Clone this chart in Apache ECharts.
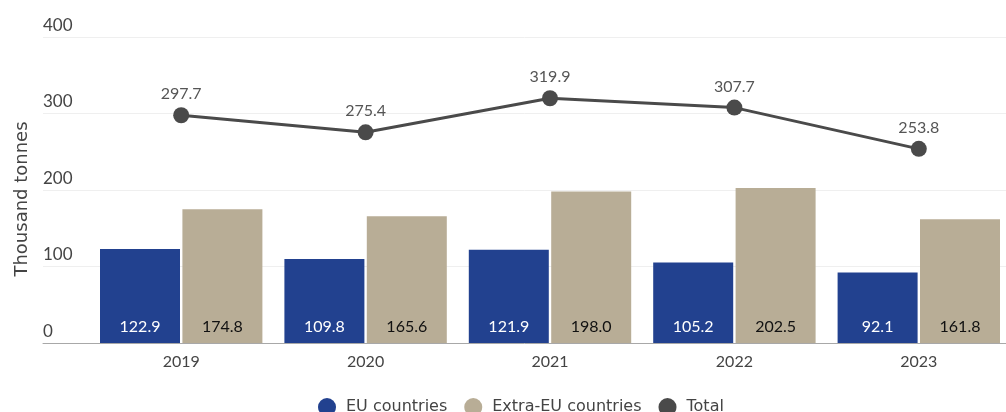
<!DOCTYPE html>
<html>
<head>
<meta charset="utf-8">
<script src="https://cdn.jsdelivr.net/npm/echarts@6/dist/echarts.min.js"></script>
<style>
  html, body { margin: 0; padding: 0; background: #fff; }
  #chart { width: 1006px; height: 412px; }
</style>
</head>
<body>
<div id="chart"></div>
<script>
// Imports by origin, thousand tonnes
const years = ['2019', '2020', '2021', '2022', '2023'];
const euCountries = [122.9, 109.8, 121.9, 105.2, 92.1];
const extraEuCountries = [174.8, 165.6, 198.0, 202.5, 161.8];
const totals = [297.7, 275.4, 319.9, 307.7, 253.8];
const yTicks = { min: 0, max: 400, interval: 100 };

const NUM_FONT = 'Lato';
const WORD_FONT = 'DejaVu Sans';
const TEXT = '#444444';
const EU_BLUE = '#22418f';
const EXTRA_TAN = '#b8ad96';
const TOTAL_GREY = '#4a4a4a';

const chart = echarts.init(document.getElementById('chart'), null, { renderer: 'canvas' });

chart.setOption({
  animation: false,
  textStyle: { fontFamily: NUM_FONT },
  grid: [
    // frame: gridlines, value labels and baseline
    { left: 43, right: 0, top: 37, bottom: 69, containLabel: false, outerBoundsMode: 'none' },
    // plotting area for the yearly groups
    { left: 89, width: 922, top: 37, bottom: 69, containLabel: false, outerBoundsMode: 'none' }
  ],
  xAxis: [
    {
      gridIndex: 0, type: 'value', min: 0, max: 1,
      axisLine: { show: true, onZero: false, lineStyle: { color: '#a8a8a8', width: 1 } },
      axisTick: { show: false }, axisLabel: { show: false }, splitLine: { show: false }
    },
    {
      gridIndex: 1, type: 'category', data: years,
      axisLine: { show: false }, axisTick: { show: false },
      axisLabel: { color: TEXT, fontSize: 16, fontFamily: NUM_FONT, margin: 11 }
    }
  ],
  yAxis: [
    {
      gridIndex: 0, type: 'value',
      min: yTicks.min, max: yTicks.max, interval: yTicks.interval,
      name: 'Thousand tonnes', nameLocation: 'middle', nameGap: 12,
      nameTextStyle: { color: TEXT, fontSize: 18, fontFamily: WORD_FONT, padding: [0, 18, 0, 0] },
      axisLine: { show: false }, axisTick: { show: false },
      axisLabel: {
        inside: true, margin: 0, color: TEXT, fontSize: 17, fontFamily: NUM_FONT,
        verticalAlign: 'bottom', align: 'left', padding: [0, 0, 3, 0]
      },
      splitLine: { show: true, lineStyle: { color: '#efefef', width: 1 } }
    },
    {
      gridIndex: 1, type: 'value',
      min: yTicks.min, max: yTicks.max, interval: yTicks.interval,
      show: false, splitLine: { show: false }
    }
  ],
  legend: {
    left: 313, top: 393,
    icon: 'circle', itemWidth: 18, itemHeight: 18, itemGap: 17,
    textStyle: { color: TEXT, fontSize: 16, fontFamily: WORD_FONT, padding: [0, 0, 0, 5] },
    data: ['EU countries', 'Extra-EU countries', 'Total']
  },
  series: [
    {
      name: 'EU countries', type: 'bar', xAxisIndex: 1, yAxisIndex: 1,
      data: euCountries, barWidth: 80, barGap: '3%',
      itemStyle: { color: EU_BLUE },
      label: {
        show: true, position: 'insideBottom', distance: 8,
        color: '#ffffff', fontSize: 16, fontFamily: NUM_FONT,
        formatter: p => p.value.toFixed(1)
      }
    },
    {
      name: 'Extra-EU countries', type: 'bar', xAxisIndex: 1, yAxisIndex: 1,
      data: extraEuCountries, barWidth: 80, barGap: '3%',
      itemStyle: { color: EXTRA_TAN },
      label: {
        show: true, position: 'insideBottom', distance: 8,
        color: '#111111', fontSize: 16, fontFamily: NUM_FONT,
        formatter: p => p.value.toFixed(1)
      }
    },
    {
      name: 'Total', type: 'line', xAxisIndex: 1, yAxisIndex: 1,
      data: totals, symbol: 'circle', symbolSize: 16,
      lineStyle: { color: TOTAL_GREY, width: 3 },
      itemStyle: { color: TOTAL_GREY },
      label: {
        show: true, position: 'top', distance: 5,
        color: '#555555', fontSize: 16, fontFamily: NUM_FONT,
        formatter: p => p.value.toFixed(1)
      },
      z: 5
    }
  ]
});
</script>
</body>
</html>
